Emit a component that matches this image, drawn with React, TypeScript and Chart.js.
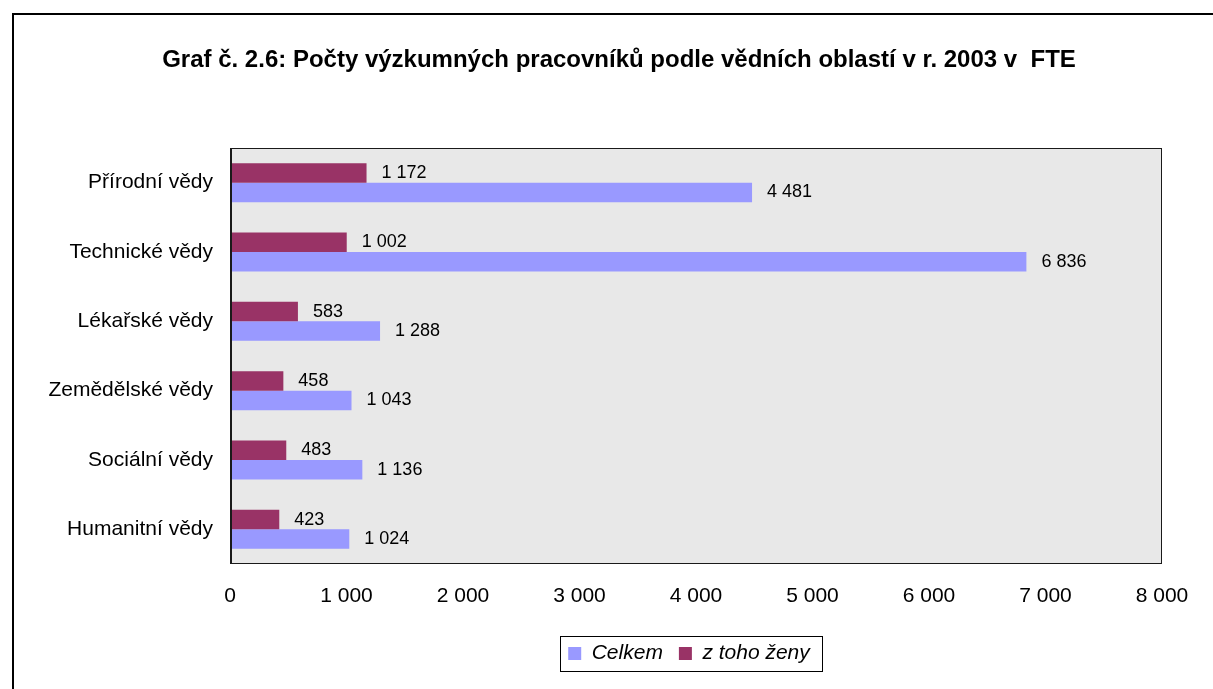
import React, { useEffect, useRef } from "react";
import { Chart, registerables } from "chart.js";

Chart.register(...registerables);

const categories = [
  "Přírodní vědy",
  "Technické vědy",
  "Lékařské vědy",
  "Zemědělské vědy",
  "Sociální vědy",
  "Humanitní vědy",
];
const celkem = [4481, 6836, 1288, 1043, 1136, 1024];
const zeny = [1172, 1002, 583, 458, 483, 423];
const seriesNames = ["Celkem", "z toho ženy"];
const xMin = 0;
const xMax = 8000;
const xStep = 1000;
const titleText =
  "Graf č. 2.6: Počty výzkumných pracovníků podle vědních oblastí v r. 2003 v  FTE";

const FONT = "'Liberation Sans', Arial, Helvetica, sans-serif";

const fmt = (v: number) =>
  String(Math.round(v)).replace(/\B(?=(\d{3})+(?!\d))/g, " ");

const framePlugin = {
  id: "frame",
  afterLayout(chart: any) {
    const t = chart.titleBlock;
    if (t) {
      t.left = 76;
      t.right = 1162;
    }
    const lg = chart.legend;
    if (lg) {
      lg.left -= 7;
      lg.right -= 7;
    }
  },
  beforeDraw(chart: any) {
    const { ctx, chartArea } = chart;
    ctx.save();
    ctx.fillStyle = "#ffffff";
    ctx.fillRect(0, 0, chart.width, chart.height);
    ctx.strokeStyle = "#000000";
    ctx.lineWidth = 2;
    ctx.strokeRect(13, 14, chart.width + 100, chart.height + 100);
    ctx.fillStyle = "#e8e8e8";
    ctx.fillRect(
      chartArea.left,
      chartArea.top,
      chartArea.right - chartArea.left,
      chartArea.bottom - chartArea.top
    );
    ctx.restore();
  },
  afterDatasetsDraw(chart: any) {
    const { ctx, chartArea } = chart;
    ctx.save();
    ctx.strokeStyle = "#1a1a1a";
    ctx.lineWidth = 1;
    ctx.strokeRect(
      chartArea.left + 0.5,
      chartArea.top + 0.5,
      chartArea.right - chartArea.left - 1,
      chartArea.bottom - chartArea.top - 1
    );
    ctx.lineWidth = 2;
    ctx.beginPath();
    ctx.moveTo(chartArea.left + 1, chartArea.top);
    ctx.lineTo(chartArea.left + 1, chartArea.bottom);
    ctx.stroke();
    // data labels
    ctx.fillStyle = "#000000";
    ctx.font = `18px ${FONT}`;
    ctx.textAlign = "left";
    ctx.textBaseline = "middle";
    chart.data.datasets.forEach((ds: any, di: number) => {
      const meta = chart.getDatasetMeta(di);
      meta.data.forEach((bar: any, i: number) => {
        ctx.fillText(fmt(ds.data[i]), bar.x + 15, bar.y);
      });
    });
    ctx.restore();
  },
  afterDraw(chart: any) {
    const legend = chart.legend;
    if (!legend || !legend.legendHitBoxes || !legend.legendHitBoxes.length) return;
    const boxes = legend.legendHitBoxes;
    let l = Infinity;
    let r = -Infinity;
    let cy = 0;
    boxes.forEach((b: any) => {
      l = Math.min(l, b.left);
      r = Math.max(r, b.left + b.width);
      cy = b.top + b.height / 2;
    });
    const { ctx } = chart;
    ctx.save();
    ctx.strokeStyle = "#000000";
    ctx.lineWidth = 1;
    ctx.strokeRect(Math.round(l - 8) + 0.5, Math.round(cy - 18) + 0.5, Math.round(r - l + 20), 35);
    ctx.restore();
  },
};

export default function App() {
  const ref = useRef<HTMLCanvasElement | null>(null);

  useEffect(() => {
    if (!ref.current) return;
    const chart = new Chart(ref.current, {
      type: "bar",
      data: {
        labels: categories,
        datasets: [
          {
            label: seriesNames[1],
            data: zeny,
            backgroundColor: "#993366",
            borderWidth: 0,
            barPercentage: 1,
            categoryPercentage: 0.5625,
          },
          {
            label: seriesNames[0],
            data: celkem,
            backgroundColor: "#9999ff",
            borderWidth: 0,
            barPercentage: 1,
            categoryPercentage: 0.5625,
          },
        ],
      },
      options: {
        indexAxis: "y",
        animation: false,
        responsive: false,
        maintainAspectRatio: false,
        layout: { padding: { left: 0, right: 51, top: 0, bottom: 15 } },
        plugins: {
          title: {
            display: true,
            text: titleText,
            color: "#000000",
            font: { family: FONT, size: 24, weight: "bold" },
            padding: { top: 46, bottom: 73.2 },
          },
          legend: {
            display: true,
            position: "bottom",
            fullSize: false,
            reverse: false,
            labels: {
              sort: (a: any, b: any) => b.datasetIndex - a.datasetIndex,
              color: "#000000",
              font: { family: FONT, size: 21, style: "italic" },
              boxWidth: 13,
              boxHeight: 13,
              padding: 16,
            },
          },
          tooltip: { enabled: false },
        },
        scales: {
          x: {
            min: xMin,
            max: xMax,
            grid: { display: false, drawTicks: false },
            border: { display: false },
            ticks: {
              stepSize: xStep,
              color: "#000000",
              font: { family: FONT, size: 21 },
              padding: 20,
              maxRotation: 0,
              callback: (v: any) => fmt(Number(v)),
            },
            afterFit: (scale: any) => {
              scale.height = 63;
            },
          },
          y: {
            grid: { display: false, drawTicks: false },
            border: { display: false },
            ticks: {
              color: "#000000",
              font: { family: FONT, size: 21 },
              padding: 17,
            },
            afterFit: (scale: any) => {
              scale.width = 230;
            },
          },
        },
      },
      plugins: [framePlugin],
    });
    return () => chart.destroy();
  }, []);

  return (
    <div style={{ position: "absolute", left: 0, top: 0, width: 1213, height: 689 }}>
      <canvas ref={ref} width={1213} height={689} style={{ width: 1213, height: 689 }} />
    </div>
  );
}
